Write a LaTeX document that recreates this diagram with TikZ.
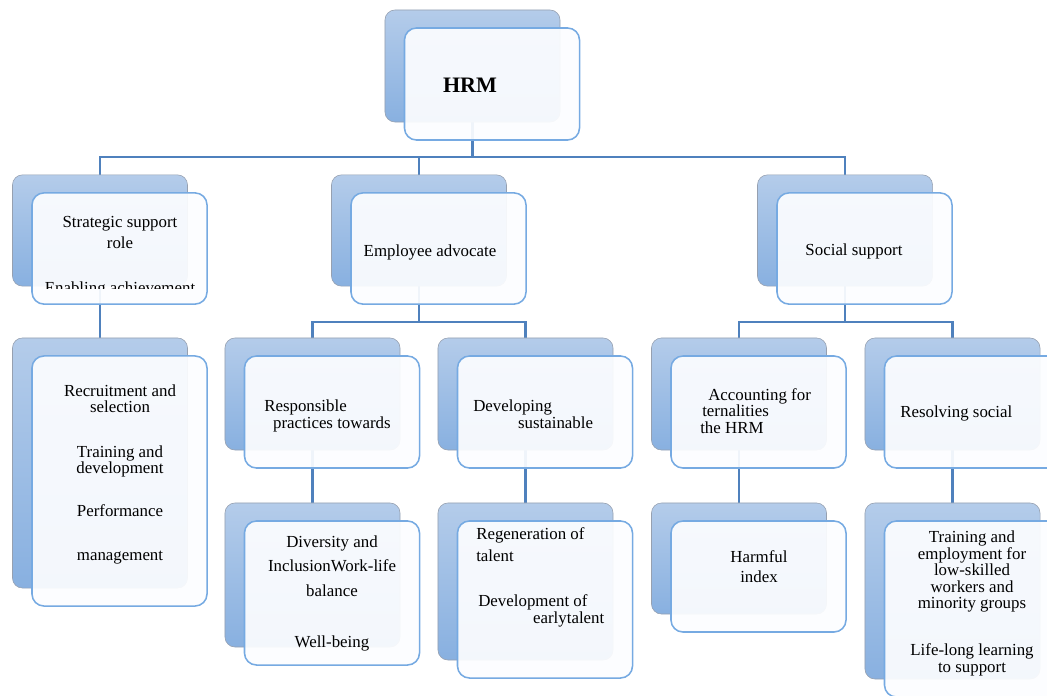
\documentclass[tikz,border=0pt]{standalone}
\usepackage{fontspec}
\setmainfont{Liberation Serif}
\usetikzlibrary{backgrounds}

\definecolor{backtop}{RGB}{180,204,234}
\definecolor{backbot}{RGB}{136,176,224}
\definecolor{backline}{RGB}{150,160,176}
\definecolor{frontline}{RGB}{118,170,226}
\definecolor{frontfill}{RGB}{252,253,255}
\definecolor{linkblue}{RGB}{79,129,189}

\tikzset{
  backbox/.style={draw=backline, rounded corners=0.25cm, top color=backtop, bottom color=backbot,
    minimum width=4.375cm, minimum height=#1, inner sep=0pt},
  backbox/.default=2.78cm,
  frontbox/.style={draw=frontline, line width=1.1pt, rounded corners=0.3cm, fill=frontfill, fill opacity=0.93,
    minimum width=4.375cm, minimum height=#1, inner sep=0pt, xshift=0.4875cm, yshift=-0.45cm},
  frontbox/.default=2.78cm,
  link/.style={draw=linkblue, line width=1.5pt},
  txt/.style={font=\fontsize{12}{11.7}\selectfont, align=center, inner sep=0pt, anchor=base},
  txtl/.style={txt, align=left, anchor=base west}
}

\begin{document}
\begin{tikzpicture}[x=0.025cm,y=-0.025cm]
\useasboundingbox (0,0) rectangle (1047,696);
\clip (0,0) rectangle (1047,696);

% top
\node[backbox=2.8cm] (hrmB) at (472.5,66) {};
\node[frontbox=2.8cm] (hrmF) at (hrmB) {};

% first tier
\node[backbox] (strB) at (100,230.5) {};
\node[frontbox] (strF) at (strB) {};
\node[backbox] (empB) at (419,230.5) {};
\node[frontbox] (empF) at (empB) {};
\node[backbox] (socB) at (845,230.5) {};
\node[frontbox] (socF) at (socB) {};

% second tier
\node[backbox=6.25cm] (recB) at (100,463) {};
\node[frontbox=6.25cm] (recF) at (recB) {};
\node[backbox=2.8cm] (resB) at (312.5,394) {};
\node[frontbox=2.8cm] (resF) at (resB) {};
\node[backbox=2.8cm] (devB) at (525.5,394) {};
\node[frontbox=2.8cm] (devF) at (devB) {};
\node[backbox=2.8cm] (accB) at (739,394) {};
\node[frontbox=2.8cm] (accF) at (accB) {};
\node[backbox=2.8cm] (solB) at (952.5,394) {};
\node[frontbox=2.8cm] (solF) at (solB) {};

% third tier
\node[backbox=3.6cm] (divB) at (312.5,575) {};
\node[frontbox=3.6cm] (divF) at (divB) {};
\node[backbox=3.925cm] (regB) at (525.5,581.5) {};
\node[frontbox=3.925cm] (regF) at (regB) {};
\node[backbox=2.775cm] (harB) at (739,558.5) {};
\node[frontbox=2.775cm] (harF) at (harB) {};
\node[backbox=4.4cm] (traB) at (952.5,591) {};
\node[frontbox=4.4cm] (traF) at (traB) {};

% connectors
\begin{pgfonlayer}{background}
  \coordinate (bus1) at (472.5,157);
  \coordinate (bus2) at (419,322);
  \coordinate (bus3) at (845,322);
  \draw[link] (hrmB.south) -- (bus1);
  \draw[link] (strB.north) |- (bus1) -| (socB.north);
  \draw[link] (empB.north) -- (empB.north |- bus1);
  \draw[link] (strB.south) -- (recB.north);
  \draw[link] (empB.south) -- (bus2);
  \draw[link] (resB.north) |- (bus2) -| (devB.north);
  \draw[link] (socB.south) -- (bus3);
  \draw[link] (accB.north) |- (bus3) -| (solB.north);
  \draw[link] (resB.south) -- (divB.north);
  \draw[link] (devB.south) -- (regB.north);
  \draw[link] (accB.south) -- (harB.north);
  \draw[link] (solB.south) -- (traB.north);
\end{pgfonlayer}

% texts (anchored at the baseline of their last line)
\node[txt, font=\fontsize{15.7}{18}\selectfont\bfseries] (hrmT) at (470,93) {HRM};
\node[txt] (strT) at (120,248) {Strategic support\\[3.2pt]role};
\begin{scope}
  \clip (0,0) rectangle (1047,288.5);
  \node[txt] (enaT) at (120,293) {Enabling achievement};
\end{scope}
\node[txt] (empT) at (430,256) {Employee advocate};
\node[txt] (socT) at (854,255) {Social support};
\node[txt] (recT) at (120,560) {Recruitment and\\selection\\[20.3pt]Training and\\development\\[18.9pt]Performance\\[18.9pt]management};
\node[txtl] (resT) at (264,428) {Responsible\\\hspace*{0.22cm}practices towards};
\node[txtl] (devT) at (473,428) {Developing\\\hspace*{1.12cm}sustainable};
\node[txtl] (accT) at (700,433) {\hspace*{0.2cm}Accounting for\\\hspace*{0.05cm}ternalities\\the HRM};
\node[txtl] (solT) at (900,417) {Resolving social};
\node[txt] (divT) at (332,647) {Diversity and\\[5.4pt]InclusionWork-life\\[6.1pt]balance\\[23.9pt]Well-being};
\node[txtl] (regT) at (476,623) {Regeneration of\\[3.9pt]talent\\[20.3pt]\hspace*{0.05cm}Development of\\\hspace*{1.42cm}earlytalent};
\node[txt] (harT) at (759,582) {Harmful\\[2.5pt]index};
\node[txt] (traT) at (972,672) {Training and\\employment for\\low-skilled\\workers and\\minority groups\\[21.7pt]Life-long learning\\to support};
\end{tikzpicture}
\end{document}
